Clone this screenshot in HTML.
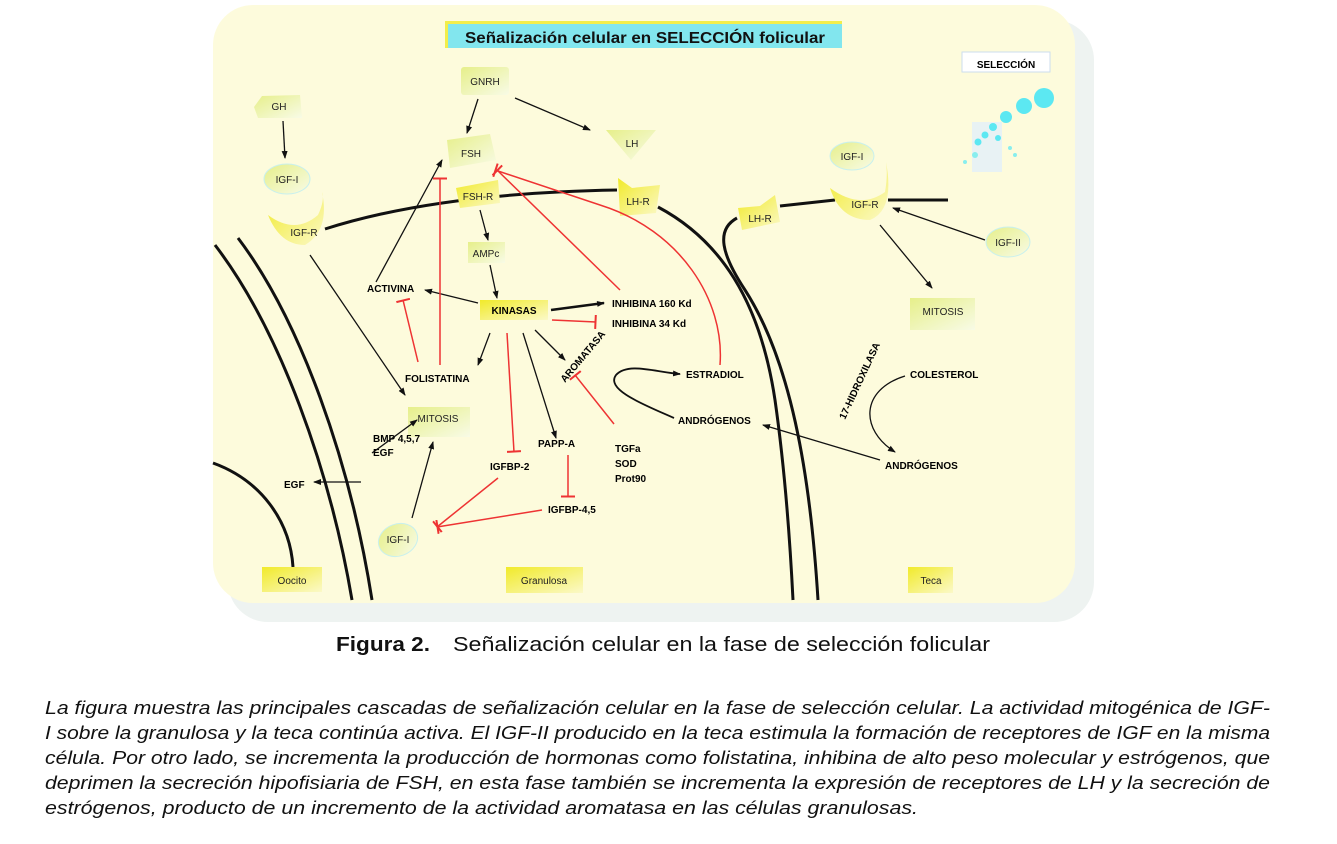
<!DOCTYPE html>
<html><head><meta charset="utf-8"><style>
html,body{margin:0;padding:0;background:#fff;}
svg{display:block;font-family:"Liberation Sans",sans-serif;}
.b{font-weight:bold;font-size:10px;fill:#000;}
.n{font-size:10px;fill:#222;}
</style></head><body>
<svg width="1337" height="844" viewBox="0 0 1337 844" xmlns="http://www.w3.org/2000/svg">
<defs>
<marker id="a" markerWidth="8" markerHeight="8" refX="7" refY="4" orient="auto" markerUnits="userSpaceOnUse"><path d="M0,1 L8,4 L0,7 z" fill="#111"/></marker>
<marker id="t" markerWidth="4" markerHeight="14" refX="2" refY="7" orient="auto" markerUnits="userSpaceOnUse"><rect x="0.5" y="0" width="2" height="14" fill="#e33"/></marker>
<linearGradient id="g" x1="0" y1="0" x2="1" y2="1"><stop offset="0" stop-color="#e6ef8a"/><stop offset="1" stop-color="#f8fbe6"/></linearGradient>
<linearGradient id="y" x1="0" y1="0" x2="1" y2="1"><stop offset="0" stop-color="#f1ea2a"/><stop offset="1" stop-color="#fbf9c8"/></linearGradient>
</defs>
<rect x="228" y="20" width="866" height="602" rx="40" fill="#eef3f1"/>
<rect x="213" y="5" width="862" height="598" rx="40" fill="#fdfbdc"/>
<rect x="445" y="21" width="397" height="27" fill="#f2ee4a"/>
<rect x="448" y="24" width="394" height="24" fill="#82e6ee"/>
<text x="645" y="43" text-anchor="middle" font-weight="bold" font-size="16" fill="#111" textLength="360" lengthAdjust="spacingAndGlyphs">Señalización celular en SELECCIÓN folicular</text>
<rect x="962" y="52" width="88" height="20" fill="#fff" stroke="#cde" />
<text x="1006" y="68" text-anchor="middle" class="b" font-size="12">SELECCIÓN</text>
<rect x="972" y="122" width="30" height="50" fill="#e8f2f4"/>
<circle cx="1044" cy="98" r="10" fill="#5ce8f2"/><circle cx="1024" cy="106" r="8" fill="#5ce8f2"/><circle cx="1006" cy="117" r="6" fill="#5ce8f2"/>
<circle cx="993" cy="127" r="4" fill="#5ce8f2"/><circle cx="985" cy="135" r="3.5" fill="#5ce8f2"/><circle cx="978" cy="142" r="3.5" fill="#5ce8f2"/><circle cx="998" cy="138" r="3" fill="#5ce8f2"/><circle cx="975" cy="155" r="3" fill="#8ee"/><circle cx="965" cy="162" r="2" fill="#8ee"/><circle cx="1010" cy="148" r="2" fill="#8ee"/><circle cx="1015" cy="155" r="2" fill="#8ee"/>
<g fill="none" stroke="#111" stroke-width="3">
<path d="M215,245 C280,330 330,470 352,600"/>
<path d="M238,238 C300,320 350,460 372,600"/>
<path d="M213,463 C260,480 290,520 293,567"/>
<path d="M325,229 C400,205 500,192 617,190"/>
<path d="M658,207 C720,240 760,300 775,400 C785,470 790,540 793,600"/>
<path d="M737,218 C715,230 722,255 745,290 C790,360 810,470 818,600"/>
<path d="M780,206 L835,200 M888,200 L948,200"/>
</g>
<rect x="461" y="67" width="48" height="28" rx="3" fill="url(#g)"/><text x="485" y="85" text-anchor="middle" class="n">GNRH</text>
<path d="M262,96 L300,95 L302,118 L258,118 L254,107 z" fill="url(#g)"/><text x="279" y="110" text-anchor="middle" class="n">GH</text>
<ellipse cx="287" cy="179" rx="23" ry="15" fill="url(#g)" stroke="#c8f0ee"/><text x="287" y="183" text-anchor="middle" class="n">IGF-I</text>
<path d="M268,215 Q295,235 318,215 Q325,200 322,192 Q330,230 305,245 Q280,245 268,215z" fill="url(#y)"/><text x="304" y="236" text-anchor="middle" class="n" font-size="9">IGF-R</text>
<path d="M447,140 L490,134 L496,160 L450,168 z" fill="url(#g)"/><text x="471" y="157" text-anchor="middle" class="n">FSH</text>
<path d="M456,188 L498,180 L500,203 L460,208 z" fill="url(#y)"/><text x="478" y="200" text-anchor="middle" class="n" font-size="8">FSH-R</text>
<path d="M606,130 L656,130 L631,160 z" fill="url(#g)"/><text x="632" y="147" text-anchor="middle" class="n">LH</text>
<path d="M618,178 L632,188 L660,185 L656,213 L620,216 z" fill="url(#y)"/><text x="638" y="205" text-anchor="middle" class="n" font-size="9">LH-R</text>
<rect x="468" y="242" width="37" height="21" fill="url(#g)"/><text x="486" y="257" text-anchor="middle" class="n">AMPc</text>
<rect x="480" y="300" width="68" height="20" fill="url(#y)"/><text x="514" y="314" text-anchor="middle" class="b">KINASAS</text>
<rect x="408" y="407" width="62" height="30" fill="url(#g)"/><text x="438" y="422" text-anchor="middle" class="n">MITOSIS</text>
<ellipse cx="398" cy="540" rx="20" ry="16" fill="url(#g)" stroke="#c8f0ee" transform="rotate(-20 398 540)"/><text x="398" y="543" text-anchor="middle" class="n" font-size="9">IGF-I</text>
<rect x="262" y="567" width="60" height="25" fill="url(#y)"/><text x="292" y="584" text-anchor="middle" class="n" font-size="11">Oocito</text>
<rect x="506" y="567" width="77" height="26" fill="url(#y)"/><text x="544" y="584" text-anchor="middle" class="n" font-size="11">Granulosa</text>
<rect x="908" y="567" width="45" height="26" fill="url(#y)"/><text x="931" y="584" text-anchor="middle" class="n" font-size="11">Teca</text>
<path d="M738,208 L760,206 L775,195 L780,222 L742,230 z" fill="url(#y)"/><text x="760" y="222" text-anchor="middle" class="n" font-size="9">LH-R</text>
<ellipse cx="852" cy="156" rx="22" ry="14" fill="url(#g)" stroke="#c8f0ee"/><text x="852" y="160" text-anchor="middle" class="n" font-size="9">IGF-I</text>
<path d="M830,188 Q860,210 885,192 Q888,175 886,162 Q895,210 870,220 Q840,220 830,188z" fill="url(#y)"/><text x="865" y="208" text-anchor="middle" class="n" font-size="9">IGF-R</text>
<ellipse cx="1008" cy="242" rx="22" ry="15" fill="url(#g)" stroke="#c8f0ee"/><text x="1008" y="246" text-anchor="middle" class="n" font-size="9">IGF-II</text>
<rect x="910" y="298" width="65" height="32" fill="url(#g)"/><text x="943" y="315" text-anchor="middle" class="n">MITOSIS</text>
<text x="367" y="292" class="b">ACTIVINA</text>
<text x="612" y="307" class="b">INHIBINA 160 Kd</text>
<text x="612" y="327" class="b">INHIBINA 34 Kd</text>
<text x="405" y="382" class="b">FOLISTATINA</text>
<text x="565" y="383" class="b" font-size="8" transform="rotate(-50 565 383)">AROMATASA</text>
<text x="686" y="378" class="b">ESTRADIOL</text>
<text x="678" y="424" class="b">ANDRÓGENOS</text>
<text x="373" y="442" class="b">BMP 4,5,7</text>
<text x="373" y="456" class="b">EGF</text>
<text x="284" y="488" class="b">EGF</text>
<text x="490" y="470" class="b">IGFBP-2</text>
<text x="538" y="447" class="b">PAPP-A</text>
<text x="615" y="452" class="b">TGFa</text><text x="615" y="467" class="b">SOD</text><text x="615" y="482" class="b">Prot90</text>
<text x="548" y="513" class="b">IGFBP-4,5</text>
<text x="910" y="378" class="b">COLESTEROL</text>
<text x="885" y="469" class="b">ANDRÓGENOS</text>
<text x="845" y="420" class="b" font-size="9" transform="rotate(-65 845 420)">17-HIDROXILASA</text>
<g stroke="#111" stroke-width="1.3" fill="none" marker-end="url(#a)">
<path d="M283,121 L285,158"/>
<path d="M478,99 L467,133"/>
<path d="M515,98 L590,130"/>
<path d="M480,210 L488,240"/>
<path d="M490,265 L497,298"/>
<path d="M478,303 L425,290"/>
<path d="M376,282 L442,160"/>
<path d="M551,310 L604,303" stroke-width="2.5"/>
<path d="M490,333 L478,365"/>
<path d="M523,333 L556,438"/>
<path d="M535,330 L565,360"/>
<path d="M310,255 L405,395"/>
<path d="M372,453 L417,420"/>
<path d="M412,518 L433,442"/>
<path d="M361,482 L314,482"/>
<path d="M674,418 C645,405 605,390 616,375 C628,362 655,372 680,374" stroke-width="1.8"/>
<path d="M985,240 L893,208"/>
<path d="M880,225 L932,288"/>
<path d="M905,376 C860,390 860,430 895,452"/>
<path d="M880,460 L763,425"/>
</g>
<g stroke="#e33" stroke-width="1.5" fill="none" marker-end="url(#t)">
<path d="M440,365 L440,178"/>
<path d="M418,362 L403,300"/>
<path d="M620,290 L497,170"/>
<path d="M720,365 C725,300 680,230 600,205 L495,170"/>
<path d="M552,320 L596,322"/>
<path d="M507,333 L514,452"/>
<path d="M568,455 L568,497"/>
<path d="M614,424 L575,375"/>
<path d="M498,478 L437,527"/>
<path d="M542,510 L437,527"/>
</g>
<text x="336" y="651" font-weight="bold" font-size="20" fill="#111" textLength="94" lengthAdjust="spacingAndGlyphs">Figura 2.</text>
<text x="453" y="651" font-size="20" fill="#111" textLength="537" lengthAdjust="spacingAndGlyphs">Señalización celular en la fase de selección folicular</text>
<g font-style="italic" font-size="18" fill="#111">
<text x="45" y="714" textLength="1225" lengthAdjust="spacingAndGlyphs">La figura muestra las principales cascadas de señalización celular en la fase de selección celular. La actividad mitogénica de IGF-</text>
<text x="45" y="739" textLength="1225" lengthAdjust="spacingAndGlyphs">I sobre la granulosa y la teca continúa activa. El IGF-II producido en la teca estimula la formación de receptores de IGF en la misma</text>
<text x="45" y="764" textLength="1225" lengthAdjust="spacingAndGlyphs">célula. Por otro lado, se incrementa la producción de hormonas como folistatina, inhibina de alto peso molecular y estrógenos, que</text>
<text x="45" y="789" textLength="1225" lengthAdjust="spacingAndGlyphs">deprimen la secreción hipofisiaria de FSH, en esta fase también se incrementa la expresión de receptores de LH y la secreción de</text>
<text x="45" y="814" textLength="873" lengthAdjust="spacingAndGlyphs">estrógenos, producto de un incremento de la actividad aromatasa en las células granulosas.</text>
</g>
</svg>
</body></html>
